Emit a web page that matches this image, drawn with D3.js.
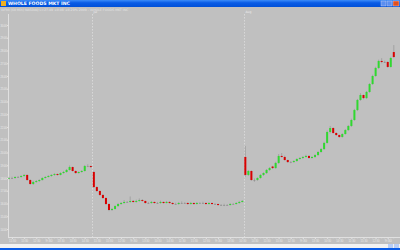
<!DOCTYPE html>
<html>
<head>
<meta charset="utf-8">
<script src="https://cdnjs.cloudflare.com/ajax/libs/d3/7.8.5/d3.min.js"></script>
<style>
  body { margin: 0; background: #c0c0c0; }
  svg { display: block; font-family: "DejaVu Sans", sans-serif; }
</style>
</head>
<body>
<script>
// hourly bars, WFMI
var opens = [17.96,18.00,18.00,18.08,18.08,18.16,18.24,17.84,17.53,17.69,17.76,17.84,18.00,18.08,18.16,18.24,18.31,18.24,18.39,18.47,18.63,18.86,18.55,18.39,18.47,18.55,18.94,18.94,
  18.47,17.29,16.98,16.67,16.43,15.96,15.49,15.57,15.80,15.96,16.04,16.12,16.12,16.20,16.12,16.20,16.27,16.20,16.04,16.04,16.12,16.04,16.04,16.12,16.04,16.12,16.04,15.96,15.96,16.04,16.04,16.04,15.96,16.04,15.96,16.04,16.04,16.04,15.96,16.04,15.96,15.96,15.88,15.88,15.88,15.88,15.96,15.96,16.04,16.12,
  19.65,18.24,18.55,17.84,17.84,18.00,18.24,18.39,18.63,18.90,18.78,19.18,19.73,19.65,19.41,19.25,19.25,19.33,19.49,19.57,19.65,19.73,19.57,19.65,19.80,20.04,20.27,20.75,21.61,21.92,21.53,21.37,21.22,21.45,21.76,22.08,22.55,23.33,24.12,24.51,24.27,24.75,25.37,26.00,26.63,27.18,27.10,27.10,26.71,27.88];
var closes = [18.00,18.00,18.08,18.08,18.16,18.24,17.84,17.53,17.69,17.76,17.84,18.00,18.08,18.16,18.24,18.31,18.24,18.39,18.47,18.63,18.86,18.55,18.39,18.47,18.55,18.94,18.94,18.86,
  17.29,16.98,16.67,16.43,15.96,15.49,15.57,15.80,15.96,16.04,16.12,16.12,16.20,16.12,16.20,16.27,16.20,16.04,16.04,16.12,16.04,16.04,16.12,16.04,16.12,16.04,15.96,15.96,16.04,16.04,16.04,15.96,16.04,15.96,16.04,16.04,16.04,15.96,16.04,15.96,15.96,15.88,15.88,15.88,15.88,15.96,15.96,16.04,16.12,16.20,
  18.24,18.55,17.84,17.84,18.00,18.24,18.39,18.63,18.78,18.78,19.18,19.73,19.65,19.41,19.25,19.25,19.33,19.49,19.57,19.65,19.73,19.57,19.65,19.80,20.04,20.27,20.75,21.61,21.92,21.53,21.37,21.22,21.45,21.76,22.08,22.55,23.33,24.12,24.51,24.27,24.75,25.37,26.00,26.63,27.18,27.10,27.10,26.71,27.41,27.49];
var highs = [18.08,18.10,18.14,18.16,18.22,18.30,18.28,17.90,17.78,17.84,17.90,18.06,18.14,18.22,18.30,18.38,18.36,18.45,18.55,18.70,18.98,18.90,18.60,18.52,18.62,19.02,19.08,18.98,
  18.55,17.36,17.04,16.75,16.50,16.02,15.64,15.86,16.04,16.12,16.27,16.20,16.55,16.27,16.30,16.40,16.35,16.22,16.12,16.20,16.16,16.12,16.22,16.16,16.20,16.18,16.10,16.06,16.12,16.16,16.10,16.10,16.12,16.08,16.12,16.10,16.14,16.10,16.10,16.08,16.04,16.00,15.96,15.98,15.96,16.04,16.04,16.10,16.20,16.27,
  20.51,18.63,18.60,17.96,18.06,18.30,18.45,18.70,18.86,18.96,19.27,19.88,19.96,19.76,19.45,19.33,19.40,19.55,19.63,19.72,19.82,19.78,19.70,19.86,20.10,20.35,20.84,21.72,22.08,21.98,21.60,21.42,21.52,21.84,22.16,22.65,23.42,24.20,24.65,24.55,24.82,25.45,26.10,26.72,27.28,27.40,27.20,27.15,27.50,28.43];
var lows = [17.90,17.92,17.94,18.00,18.02,18.10,17.78,17.46,17.45,17.62,17.70,17.80,17.96,18.04,18.10,18.18,18.18,18.20,18.34,18.42,18.58,18.50,18.32,18.34,18.42,18.50,18.86,18.78,
  17.22,16.90,16.60,16.36,15.88,15.40,15.42,15.52,15.74,15.90,15.98,16.04,16.06,16.06,16.06,16.14,16.14,15.98,15.96,15.98,15.98,15.96,15.98,15.98,16.00,15.98,15.90,15.90,15.90,15.96,15.98,15.90,15.92,15.90,15.92,15.98,15.96,15.90,15.92,15.90,15.90,15.82,15.82,15.80,15.82,15.84,15.90,15.92,15.98,16.08,
  18.10,18.16,17.78,17.70,17.78,17.94,18.16,18.32,18.56,18.70,18.72,19.10,19.60,19.36,19.18,19.16,19.20,19.28,19.44,19.50,19.60,19.50,19.52,19.58,19.74,19.98,20.20,20.70,21.50,21.46,21.30,21.14,21.16,21.40,21.70,22.00,22.48,23.25,24.05,24.18,24.20,24.68,25.30,25.94,26.55,27.00,27.02,26.64,26.66,27.40];

var sessionStarts = [28, 78];
var sessionLabels = ["Jul", "Aug"];
var yTicks = [14,15,16,17,18,19,20,21,22,23,24,25,26,27,28,29,30];
var xTickEvery = 4;
var xTickLabels = ["11:30","15:30","12:30","9:30","13:30","10:30","14:30","11:30","15:30","12:30","9:30","13:30","10:30","14:30","11:30","15:30",
  "12:30","9:30","13:30","10:30","14:30","11:30","15:30","12:30","9:30","13:30","10:30","14:30","11:30","15:30","12:30","9:30"];

var W = 400, H = 250;
var svg = d3.select("body").append("svg").attr("width", W).attr("height", H);

svg.append("rect").attr("width", W).attr("height", H).attr("fill", "#c0c0c0");

// window chrome
var grad = svg.append("defs").append("linearGradient").attr("id", "tb").attr("x1", 0).attr("x2", 0).attr("y1", 0).attr("y2", 1);
grad.append("stop").attr("offset", "0").attr("stop-color", "#3c8cf8");
grad.append("stop").attr("offset", "0.4").attr("stop-color", "#0a5ce6");
grad.append("stop").attr("offset", "1").attr("stop-color", "#0050d8");
svg.append("rect").attr("width", W).attr("height", 7).attr("fill", "url(#tb)");
svg.append("rect").attr("x", 1).attr("y", 1).attr("width", 5).attr("height", 5).attr("fill", "#f0b020");
svg.append("text").attr("x", 8).attr("y", 5.3).attr("font-size", 4.6).attr("font-weight", "bold")
  .attr("fill", "#ffffff").text("WHOLE FOODS MKT INC");
svg.append("rect").attr("x", 381).attr("y", 1).attr("width", 5).attr("height", 5).attr("fill", "#5a8ef0").attr("stroke", "#dde").attr("stroke-width", 0.4);
svg.append("rect").attr("x", 387).attr("y", 1).attr("width", 5).attr("height", 5).attr("fill", "#5a8ef0").attr("stroke", "#dde").attr("stroke-width", 0.4);
svg.append("rect").attr("x", 393).attr("y", 1).attr("width", 6).attr("height", 5).attr("fill", "#e05020").attr("stroke", "#fdd").attr("stroke-width", 0.4);

svg.append("rect").attr("x", 0).attr("y", 244).attr("width", W).attr("height", 4).attr("fill", "#f2f2f2");
svg.append("rect").attr("x", 0).attr("y", 248).attr("width", W).attr("height", 2).attr("fill", "#0a5ce6");
svg.append("rect").attr("x", 388).attr("y", 244).attr("width", 5).attr("height", 4).attr("fill", "#b8cdf5");
svg.append("rect").attr("x", 394).attr("y", 244).attr("width", 5).attr("height", 4).attr("fill", "#b8cdf5");

svg.append("text").attr("x", 1).attr("y", 10.5).attr("font-size", 3.2).attr("fill", "#e4e4e4")
  .text("WFMI (60 Min)  NASDAQ  L=27.49  +0.08  +0.29%   2009 - WHOLE FOODS MKT INC");

// scales
var x = d3.scaleLinear().domain([0, closes.length - 1]).range([9, 393.8]);
var y = d3.scaleLinear().domain([14, 30]).range([229, 25]);

var axisCol = "#e0e0e0";
svg.append("line").attr("x1", 8.5).attr("x2", 8.5).attr("y1", 14).attr("y2", 238).attr("stroke", axisCol);
svg.append("line").attr("x1", 8).attr("x2", 400).attr("y1", 237.5).attr("y2", 237.5).attr("stroke", axisCol);

// y axis
var yAxis = d3.axisLeft(y).tickValues(yTicks).tickSize(1.5).tickFormat(d3.format(".2f"));
var gy = svg.append("g").attr("transform", "translate(8.5,0)").call(yAxis);
gy.select(".domain").remove();
gy.selectAll("line").attr("stroke", axisCol);
gy.selectAll("text").attr("font-size", 3.6).attr("fill", "#ececec").attr("x", -1.5)
  .attr("textLength", 6.5).attr("lengthAdjust", "spacingAndGlyphs");

// x axis
var xTickIdx = xTickLabels.map(function(d, i) { return 1 + i * xTickEvery; });
var xAxis = d3.axisBottom(x).tickValues(xTickIdx).tickSize(1.5)
  .tickFormat(function(d, i) { return xTickLabels[i]; });
var gx = svg.append("g").attr("transform", "translate(0,237.5)").call(xAxis);
gx.select(".domain").remove();
gx.selectAll("line").attr("stroke", axisCol);
gx.selectAll("text").attr("font-size", 3.6).attr("fill", "#ececec").attr("y", 2.3)
  .attr("textLength", 7).attr("lengthAdjust", "spacingAndGlyphs");
svg.append("g").selectAll("line").data(closes).enter().append("line")
  .attr("x1", function(d, i) { return x(i); }).attr("x2", function(d, i) { return x(i); })
  .attr("y1", 237.5).attr("y2", 238.5).attr("stroke", axisCol).attr("stroke-width", 0.5);

// session separators
sessionStarts.forEach(function(s, k) {
  var xx = Math.round(x(s - 0.5)) + 0.5;
  svg.append("line").attr("x1", xx).attr("x2", xx).attr("y1", 14).attr("y2", 237)
    .attr("stroke", "#dedede").attr("stroke-width", 0.8).attr("stroke-dasharray", "1.5,1.5");
  svg.append("text").attr("x", xx + 1).attr("y", 13).attr("font-size", 3).attr("fill", "#f0f0f0").text(sessionLabels[k]);
});

// candles
var bars = closes.map(function(c, i) {
  return { i: i, o: opens[i], h: highs[i], l: lows[i], c: c };
});
function candleColor(d) {
  if (d.c > d.o) return "#30d830";
  if (d.c < d.o) return "#d80000";
  return "#8a8a8a";
}
var g = svg.append("g");
g.selectAll("line.wick").data(bars).enter().append("line").attr("class", "wick")
  .attr("x1", function(d) { return x(d.i); }).attr("x2", function(d) { return x(d.i); })
  .attr("y1", function(d) { return y(d.h); }).attr("y2", function(d) { return y(d.l); })
  .attr("stroke", "#9a9a9a").attr("stroke-width", 0.8);
g.selectAll("rect.body").data(bars).enter().append("rect").attr("class", "body")
  .attr("x", function(d) { return x(d.i) - 1; })
  .attr("width", 2)
  .attr("y", function(d) { return y(Math.max(d.o, d.c)); })
  .attr("height", function(d) { return Math.max(0.6, Math.abs(y(d.o) - y(d.c))); })
  .attr("fill", candleColor);
</script>
</body>
</html>
